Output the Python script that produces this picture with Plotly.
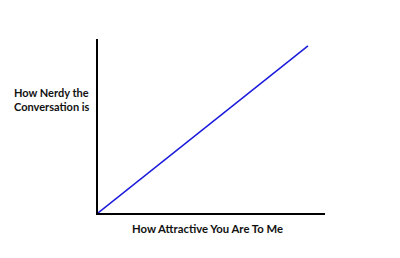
import plotly.graph_objects as go

# Data
attractiveness = [0, 92.5]
nerdiness = [0, 96]
x_label = "How Attractive You Are To Me"
y_label = "How Nerdy the<br>Conversation is"

L, R, T, B = 98, 75, 39, 45
W, H = 400, 258
pw, ph = W - L - R, H - T - B

fig = go.Figure()
fig.add_trace(go.Scatter(x=attractiveness, y=nerdiness, mode="lines",
                         line=dict(color="#1a1adc", width=1.5), hoverinfo="skip"))

fig.update_layout(
    width=W, height=H,
    margin=dict(l=L, r=R, t=T, b=B),
    paper_bgcolor="white", plot_bgcolor="white",
    showlegend=False,
    xaxis=dict(range=[0, 100], showline=True, linecolor="black", linewidth=2,
               showgrid=False, zeroline=False, showticklabels=False, ticks="",
               fixedrange=True),
    yaxis=dict(range=[0, 100], showline=True, linecolor="black", linewidth=2,
               showgrid=False, zeroline=False, showticklabels=False, ticks="",
               fixedrange=True),
    font=dict(family="Lato, sans-serif", color="#111"),
)

fig.add_annotation(text="<b>" + x_label + "</b>", xref="paper", yref="paper",
                   x=(207 - L) / pw, y=(H - B - 229) / ph,
                   xanchor="center", yanchor="middle", showarrow=False,
                   font=dict(size=11.3))
fig.add_annotation(text="<b>" + y_label + "</b>", xref="paper", yref="paper",
                   x=(12 - L) / pw, y=(H - B - 99) / ph, align="left",
                   xanchor="left", yanchor="middle", showarrow=False,
                   font=dict(size=11))

fig.write_html("out.html", config={"displayModeBar": False})
